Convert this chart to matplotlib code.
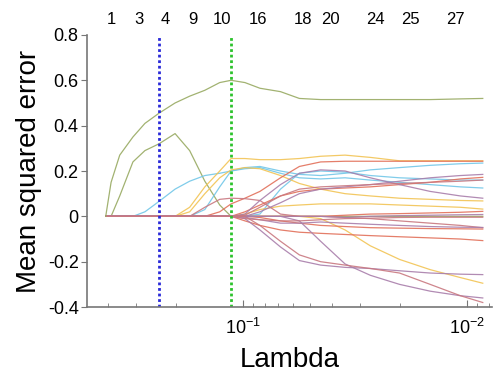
import matplotlib
matplotlib.use("Agg")
import matplotlib.pyplot as plt
from matplotlib.ticker import FixedLocator, NullFormatter, LogLocator

plt.rcParams["font.family"] = ["Liberation Sans", "DejaVu Sans"]
plt.rcParams["mathtext.fontset"] = "custom"
plt.rcParams["mathtext.rm"] = "Liberation Sans"
plt.rcParams["mathtext.it"] = "Liberation Sans:italic"

# ---- data ----
lambdas = [0.41, 0.388, 0.355, 0.31, 0.274, 0.237, 0.201, 0.173, 0.148, 0.127, 0.113, 0.098,
           0.084, 0.068, 0.056, 0.045, 0.035, 0.027, 0.020, 0.0146, 0.0107, 0.0085]

green_a = [0, 0.15, 0.27, 0.35, 0.41, 0.455, 0.50, 0.53, 0.556, 0.59, 0.60, 0.59,
           0.565, 0.55, 0.52, 0.515, 0.515, 0.515, 0.515, 0.515, 0.518, 0.52]
green_b = [0, 0, 0.09, 0.24, 0.29, 0.32, 0.365, 0.29, 0.155, 0.05, 0.0, 0,
           0, 0, 0, 0, 0, 0, 0, 0, 0, 0]
cyan_1 = [0, 0, 0, 0, 0.02, 0.066, 0.12, 0.155, 0.18, 0.19, 0.20, 0.21,
          0.215, 0.19, 0.17, 0.165, 0.17, 0.16, 0.15, 0.14, 0.13, 0.125]
cyan_2 = [0, 0, 0, 0, 0, 0, 0, 0, 0.03, 0.13, 0.20, 0.215,
          0.22, 0.20, 0.185, 0.18, 0.19, 0.205, 0.215, 0.225, 0.232, 0.235]
cyan_3 = [0, 0, 0, 0, 0, 0, 0, 0, 0, 0, 0, 0,
          0.01, 0.12, 0.19, 0.20, 0.195, 0.18, 0.17, 0.165, 0.16, 0.16]
yellow_1 = [0, 0, 0, 0, 0, 0, 0, 0.04, 0.13, 0.20, 0.255, 0.255,
            0.25, 0.25, 0.255, 0.265, 0.27, 0.26, 0.245, 0.245, 0.245, 0.245]
yellow_2 = [0, 0, 0, 0, 0, 0, 0, 0.02, 0.10, 0.17, 0.205, 0.215,
            0.21, 0.18, 0.145, 0.12, 0.10, 0.09, 0.08, 0.075, 0.07, 0.068]
yellow_3 = [0, 0, 0, 0, 0, 0, 0, 0, 0, 0, 0, 0.01,
            0.03, 0.045, 0.05, 0.055, 0.055, 0.055, 0.05, 0.045, 0.04, 0.032]
yellow_4 = [0, 0, 0, 0, 0, 0, 0, 0, 0, 0, 0, 0,
            0, 0, 0, -0.01, -0.06, -0.13, -0.19, -0.235, -0.27, -0.295]
red_1 = [0, 0, 0, 0, 0, 0, 0, 0, 0, 0.02, 0.055, 0.08,
         0.11, 0.17, 0.22, 0.24, 0.243, 0.243, 0.243, 0.243, 0.243, 0.243]
red_2 = [0, 0, 0, 0, 0, 0, 0, 0, 0.04, 0.075, 0.08, 0.078,
         0.07, 0.01, 0, 0, -0.005, -0.01, -0.02, -0.03, -0.04, -0.05]
red_3 = [0, 0, 0, 0, 0, 0, 0, 0, 0, 0, 0, 0.02,
         0.05, 0.09, 0.11, 0.12, 0.125, 0.13, 0.14, 0.15, 0.165, 0.172]
red_4 = [0, 0, 0, 0, 0, 0, 0, 0, 0, 0, 0, 0,
         0, 0, 0, 0.0, 0.005, 0.01, 0.012, 0.015, 0.018, 0.022]
red_5 = [0, 0, 0, 0, 0, 0, 0, 0, 0, 0, 0, 0,
         -0.005, -0.02, -0.03, -0.04, -0.045, -0.05, -0.052, -0.054, -0.055, -0.056]
red_6 = [0, 0, 0, 0, 0, 0, 0, 0, 0, 0, 0, -0.02,
         -0.04, -0.06, -0.07, -0.075, -0.08, -0.085, -0.09, -0.095, -0.10, -0.107]
purple_1 = [0, 0, 0, 0, 0, 0, 0, 0, 0, 0, 0, 0.01,
            0.07, 0.14, 0.19, 0.205, 0.20, 0.17, 0.14, 0.11, 0.09, 0.08]
purple_2 = [0, 0, 0, 0, 0, 0, 0, 0, 0, 0, 0, 0,
            0.02, 0.06, 0.10, 0.12, 0.13, 0.14, 0.155, 0.17, 0.18, 0.185]
purple_3 = [0, 0, 0, 0, 0, 0, 0, 0, 0, 0, 0, 0,
            0, 0, 0, 0, -0.005, 0, 0.003, 0.005, 0.007, 0.008]
purple_4 = [0, 0, 0, 0, 0, 0, 0, 0, 0, 0, 0, -0.005,
            -0.015, -0.03, -0.03, -0.025, -0.03, -0.035, -0.04, -0.045, -0.048, -0.049]
purple_5 = [0, 0, 0, 0, 0, 0, 0, 0, 0, 0, 0, -0.01,
            -0.06, -0.135, -0.195, -0.215, -0.225, -0.23, -0.24, -0.25, -0.255, -0.257]
purple_6 = [0, 0, 0, 0, 0, 0, 0, 0, 0, 0, 0, 0,
            0, 0, -0.02, -0.11, -0.21, -0.26, -0.30, -0.33, -0.35, -0.36]
rose_1 = [0, 0, 0, 0, 0, 0, 0, 0, 0, 0, 0, 0.005,
          0.04, 0.09, 0.12, 0.13, 0.135, 0.14, 0.145, 0.15, 0.155, 0.16]
rose_2 = [0, 0, 0, 0, 0, 0, 0, 0, 0, 0, 0, 0,
          -0.04, -0.11, -0.17, -0.20, -0.215, -0.23, -0.25, -0.30, -0.35, -0.38]
rose_3 = [0, 0, 0, 0, 0, 0, 0, 0, 0, 0, 0, -0.01,
          -0.015, -0.02, -0.02, -0.015, -0.01, -0.008, -0.005, -0.004, -0.004, -0.004]

top_counts = ["1", "3", "4", "9", "10", "16", "18", "20", "24", "25", "27"]
top_lambdas = [0.388, 0.291, 0.223, 0.167, 0.124, 0.0857, 0.0539, 0.0409, 0.0257, 0.0178, 0.0113]

lambda_min_mse = 0.237
lambda_1se = 0.113

# ---- colours ----
c_green = "#98aa62"
c_cyan = "#72c7e8"
c_yellow = "#f2c455"
c_red = "#e2705a"
c_purple = "#a97eab"
c_rose = "#c97880"

paths = [
    (green_b, c_green), (cyan_1, c_cyan), (cyan_2, c_cyan), (cyan_3, c_cyan),
    (yellow_1, c_yellow), (yellow_2, c_yellow), (yellow_3, c_yellow), (yellow_4, c_yellow),
    (red_1, c_red), (red_2, c_rose), (red_3, c_red), (red_4, c_red), (red_5, c_red),
    (red_6, c_red), (purple_1, c_purple), (purple_2, c_purple), (purple_3, c_purple),
    (purple_4, c_purple), (purple_5, c_purple), (purple_6, c_purple),
    (rose_1, c_rose), (rose_2, c_rose), (rose_3, c_rose), (green_a, c_green),
]

fig = plt.figure(figsize=(5, 3.8), dpi=100)
ax = fig.add_axes([0.174, 0.192, 0.81, 0.716])

for vals, col in paths:
    ax.plot(lambdas, vals, color=col, lw=0.9, alpha=0.9)

ax.axvline(lambda_min_mse, color="#2a2ad8", lw=2, ls=(0, (1, 1)))
ax.axvline(lambda_1se, color="#2cc22c", lw=2, ls=(0, (1, 1)))

ax.set_xscale("log")
ax.set_xlim(0.497, 0.00773)
ax.set_ylim(-0.4, 0.8)

ax.spines["top"].set_visible(False)
ax.spines["right"].set_visible(False)
for s in ("left", "bottom"):
    ax.spines[s].set_color("#777777")
    ax.spines[s].set_linewidth(1.2)

ax.set_yticks([-0.4, -0.2, 0, 0.2, 0.4, 0.6, 0.8])
ax.set_yticklabels(["-0.4", "-0.2", "0", "0.2", "0.4", "0.6", "0.8"])
ax.xaxis.set_major_locator(FixedLocator([0.1, 0.01]))
ax.set_xticklabels([r"$10^{-1}$", r"$10^{-2}$"])
ax.xaxis.set_minor_locator(LogLocator(base=10, subs=range(2, 10)))
ax.xaxis.set_minor_formatter(NullFormatter())
ax.tick_params(axis="y", direction="out", length=4, color="#777777", labelsize=13, pad=2)
ax.tick_params(axis="x", which="major", direction="in", length=5, color="#777777",
               labelsize=13, pad=8)
ax.tick_params(axis="x", which="minor", direction="in", length=3, color="#777777")

for lab, lam in zip(top_counts, top_lambdas):
    ax.text(lam, 1.055, lab, transform=ax.get_xaxis_transform(), ha="center",
            va="center", fontsize=12)

ax.set_xlabel("Lambda", fontsize=20, labelpad=6)
ax.set_ylabel("Mean squared error", fontsize=20, labelpad=4)

fig.savefig("out.png", dpi=100)
